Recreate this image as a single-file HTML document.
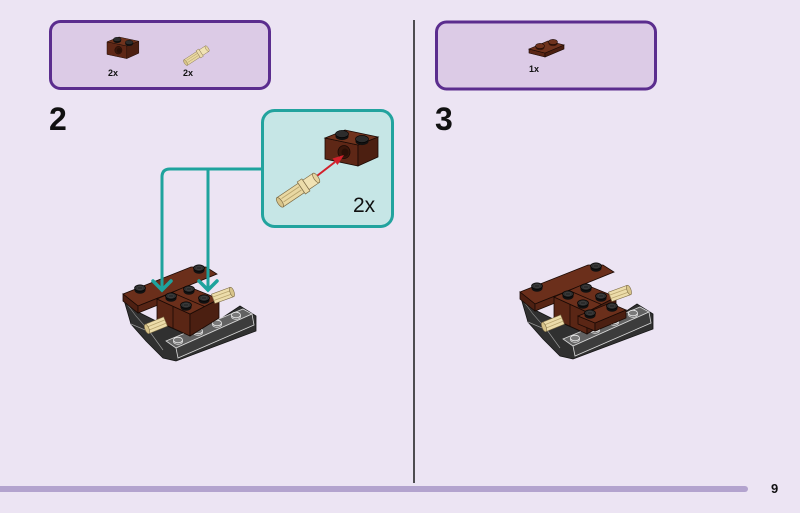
<!DOCTYPE html>
<html>
<head>
<meta charset="utf-8">
<style>
  html,body{margin:0;padding:0;background:#ece4f3;}
  body{width:800px;height:513px;overflow:hidden;}
  svg{display:block;}
  text{font-family:"Liberation Sans",sans-serif;}
</style>
</head>
<body>
<svg width="800" height="513" viewBox="0 0 800 513" xmlns="http://www.w3.org/2000/svg">
  <defs>
    <g id="st">
      <ellipse cx="0" cy="2.5" rx="5.5" ry="3.2" fill="#111"/>
      <rect x="-5.5" y="0" width="11" height="2.5" fill="#111"/>
      <ellipse cx="0" cy="0" rx="5.5" ry="3.2" fill="#2c2c2c" stroke="#000" stroke-width="0.6"/>
      <ellipse cx="0" cy="0" rx="3" ry="1.7" fill="none" stroke="#444" stroke-width="0.6"/>
    </g>
    <g id="ls">
      <ellipse cx="0" cy="1.6" rx="4.5" ry="2.8" fill="#6a6a6a" stroke="#dcdcdc" stroke-width="0.8"/>
      <ellipse cx="0" cy="0" rx="4.5" ry="2.8" fill="#7a7a7a" stroke="#ececec" stroke-width="0.8"/>
    </g>
    <g id="brick">
      <polygon points="0,8 33,15 33,36 0,29" fill="#5e2716" stroke="#1a0a05" stroke-width="0.8"/>
      <polygon points="33,15 53,7 53,27 33,36" fill="#4c1f11" stroke="#1a0a05" stroke-width="0.8"/>
      <polygon points="0,8 20,0 53,7 33,15" fill="#70331d" stroke="#1a0a05" stroke-width="0.8"/>
      <ellipse cx="19" cy="22" rx="6" ry="6.5" fill="#3a170b" stroke="#1a0a05" stroke-width="0.8"/>
      <ellipse cx="20" cy="22.5" rx="3.5" ry="4" fill="#2a0f06"/>
      <g transform="translate(17,4)">
        <ellipse cx="0" cy="2.5" rx="6.5" ry="3.6" fill="#111"/>
        <rect x="-6.5" y="0" width="13" height="2.5" fill="#111"/>
        <ellipse cx="0" cy="0" rx="6.5" ry="3.6" fill="#2c2c2c" stroke="#000" stroke-width="0.6"/>
      </g>
      <g transform="translate(37,9)">
        <ellipse cx="0" cy="2.5" rx="6.5" ry="3.6" fill="#111"/>
        <rect x="-6.5" y="0" width="13" height="2.5" fill="#111"/>
        <ellipse cx="0" cy="0" rx="6.5" ry="3.6" fill="#2c2c2c" stroke="#000" stroke-width="0.6"/>
      </g>
    </g>
    <g id="pin">
      <rect x="1" y="-5" width="23" height="10" fill="#e9d8a2" stroke="#7d6b45" stroke-width="0.6"/>
      <line x1="4" y1="-2" x2="23" y2="-2" stroke="#b9a56f" stroke-width="0.8"/>
      <line x1="4" y1="1.5" x2="23" y2="1.5" stroke="#b9a56f" stroke-width="0.8"/>
      <ellipse cx="1" cy="0" rx="2" ry="5" fill="#d8c48a" stroke="#7d6b45" stroke-width="0.6"/>
      <rect x="24" y="-6.5" width="5" height="13" fill="#ecdcaa" stroke="#7d6b45" stroke-width="0.6"/>
      <rect x="29" y="-5" width="11" height="10" fill="#f0e2b4" stroke="#7d6b45" stroke-width="0.6"/>
      <ellipse cx="40" cy="0" rx="2" ry="5" fill="#e6d5a0" stroke="#7d6b45" stroke-width="0.6"/>
    </g>
    <g id="axle">
      <rect x="0" y="-5" width="20" height="10" fill="#ecdcaa" stroke="#7d6b45" stroke-width="0.6"/>
      <line x1="2" y1="-1.8" x2="20" y2="-1.8" stroke="#b9a56f" stroke-width="0.8"/>
      <line x1="2" y1="1.8" x2="20" y2="1.8" stroke="#b9a56f" stroke-width="0.8"/>
      <ellipse cx="0" cy="0" rx="2" ry="5" fill="#d8c48a" stroke="#7d6b45" stroke-width="0.6"/>
    </g>
    <g id="model">
      <!-- dark base -->
      <polygon points="124,300 131,324 146,341 163,358 176,361 256,331 256,316 240,306 222,318 190,336 158,322 138,312" fill="#303030" stroke="#151515" stroke-width="0.8"/>
      <polyline points="131,324 150,332 163,350" fill="none" stroke="#9a9a9a" stroke-width="0.7"/>
      <polyline points="124,300 136,316 150,332" fill="none" stroke="#8a8a8a" stroke-width="0.6"/>
      <!-- slope plate -->
      <polygon points="166,341 243,309 252,314 176,348" fill="#626262" stroke="#d8d8d8" stroke-width="0.8"/>
      <polygon points="176,348 252,314 254,325 178,358" fill="#3c3c3c" stroke="#d8d8d8" stroke-width="0.8"/>
      <use href="#ls" x="178" y="340"/>
      <use href="#ls" x="198" y="331"/>
      <use href="#ls" x="217" y="323"/>
      <use href="#ls" x="236" y="315"/>
      <!-- back brown plate -->
      <polygon points="123,294 191,267 206,267 217,274 158,298 138,306" fill="#6b2f1b" stroke="#1a0a05" stroke-width="0.8"/>
      <polygon points="123,294 138,306 138,313 123,301" fill="#4e2012" stroke="#1a0a05" stroke-width="0.8"/>
      <polygon points="138,306 158,298 158,305 138,313" fill="#582515" stroke="#1a0a05" stroke-width="0.8"/>
      <use href="#st" x="140" y="288"/>
      <use href="#st" x="199" y="268"/>
      <!-- center bricks -->
      <polygon points="157,321 190,336 190,314 157,299" fill="#5a2615" stroke="#1a0a05" stroke-width="0.8"/>
      <polygon points="190,314 219,299 219,318 190,336" fill="#4b1f11" stroke="#1a0a05" stroke-width="0.8"/>
      <polygon points="157,299 187,286 219,299 190,314" fill="#6b2f1b" stroke="#1a0a05" stroke-width="0.8"/>
      <line x1="172" y1="292.5" x2="204.5" y2="306.5" stroke="#1a0a05" stroke-width="0.8"/>
      <line x1="173" y1="306.5" x2="173" y2="328.5" stroke="#1a0a05" stroke-width="0.8"/>
      <use href="#st" x="189" y="289"/>
      <use href="#st" x="171" y="296"/>
      <use href="#st" x="204" y="298"/>
      <use href="#st" x="186" y="305"/>
      <!-- pins -->
      <g transform="translate(147,329) rotate(-22)"><use href="#axle"/></g>
      <g transform="translate(232,292) rotate(160)"><use href="#axle"/></g>
    </g>
  </defs>

  <!-- background -->
  <rect x="0" y="0" width="800" height="513" fill="#ece4f3"/>

  <!-- parts boxes -->
  <rect x="50.5" y="21.5" width="219" height="67" rx="10" fill="#dccbe6" stroke="#5b2d8e" stroke-width="3"/>
  <rect x="436.5" y="22" width="219" height="67" rx="10" fill="#dccbe6" stroke="#5b2d8e" stroke-width="3"/>

  <!-- left parts -->
  <g transform="translate(107,37) scale(0.6)"><use href="#brick"/></g>
  <text x="108" y="76" font-size="9" font-weight="bold" fill="#111">2x</text>
  <g transform="translate(185,63) rotate(-33) scale(0.66)"><use href="#pin"/></g>
  <text x="183" y="76" font-size="9" font-weight="bold" fill="#111">2x</text>

  <!-- right part: 1x2 plate -->
  <g>
    <polygon points="529,49 529,53 545,57 545,53" fill="#5a2615" stroke="#1a0a05" stroke-width="0.6"/>
    <polygon points="545,53 564,45 564,49 545,57" fill="#4a1e10" stroke="#1a0a05" stroke-width="0.6"/>
    <polygon points="529,49 548,41 564,45 545,53" fill="#6e321d" stroke="#1a0a05" stroke-width="0.6"/>
    <g transform="translate(540,46)">
      <ellipse cx="0" cy="1.5" rx="4.5" ry="2.6" fill="#3a170b"/>
      <ellipse cx="0" cy="0" rx="4.5" ry="2.6" fill="#6e321d" stroke="#1a0a05" stroke-width="0.6"/>
    </g>
    <g transform="translate(553,42)">
      <ellipse cx="0" cy="1.5" rx="4.5" ry="2.6" fill="#3a170b"/>
      <ellipse cx="0" cy="0" rx="4.5" ry="2.6" fill="#6e321d" stroke="#1a0a05" stroke-width="0.6"/>
    </g>
  </g>
  <text x="529" y="72" font-size="9" font-weight="bold" fill="#111">1x</text>

  <!-- step numbers -->
  <text x="49" y="130" font-size="32" font-weight="bold" fill="#111">2</text>
  <text x="435" y="130" font-size="32" font-weight="bold" fill="#111">3</text>

  <!-- divider -->
  <line x1="414" y1="20" x2="414" y2="483" stroke="#1a1a1a" stroke-width="1.5"/>

  <!-- left model -->
  <use href="#model"/>

  <!-- teal connectors -->
  <path d="M262,169 H170 Q162,169 162,177 V289" fill="none" stroke="#1ea39d" stroke-width="3"/>
  <path d="M208,169 V289" fill="none" stroke="#1ea39d" stroke-width="3"/>
  <path d="M153,281 L162,290 L171,281" fill="none" stroke="#1ea39d" stroke-width="3.5" stroke-linecap="round"/>
  <path d="M199,281 L208,290 L217,281" fill="none" stroke="#1ea39d" stroke-width="3.5" stroke-linecap="round"/>

  <!-- callout -->
  <rect x="262.5" y="110.5" width="130" height="116" rx="12" fill="#c6e6e6" stroke="#22a39e" stroke-width="3"/>
  <g transform="translate(325,130)"><use href="#brick"/></g>
  <line x1="313" y1="179" x2="335" y2="162" stroke="#d3202b" stroke-width="2"/>
  <polygon points="344,155 332.5,158.5 337.5,165" fill="#d3202b"/>
  <g transform="translate(279,203) rotate(-34) scale(1.12)"><use href="#pin"/></g>
  <text x="353" y="212" font-size="21" fill="#111">2x</text>

  <!-- right model -->
  <g transform="translate(397,-2)"><use href="#model"/></g>
  <!-- extra plate on right model -->
  <polygon points="578,316 595,323 595,331 578,324" fill="#5a2615" stroke="#1a0a05" stroke-width="0.8"/>
  <polygon points="595,323 626,310 626,318 595,331" fill="#4b1f11" stroke="#1a0a05" stroke-width="0.8"/>
  <polygon points="578,316 610,303 626,310 595,323" fill="#6b2f1b" stroke="#1a0a05" stroke-width="0.8"/>
  <use href="#st" x="590" y="313"/>
  <use href="#st" x="612" y="306"/>

  <!-- bottom bar -->
  <path d="M0,486 H745 A3,3 0 0 1 745,492 H0 Z" fill="#b3a3ce"/>
  <text x="771" y="493" font-size="13" font-weight="bold" fill="#111">9</text>
</svg>
</body>
</html>
